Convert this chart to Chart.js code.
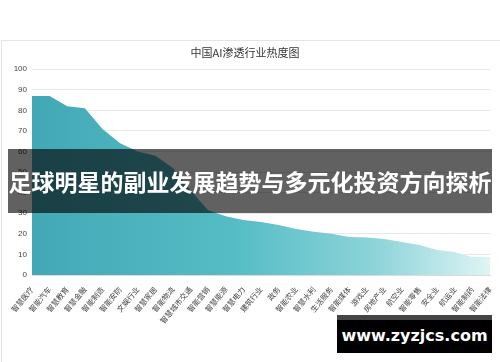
<!DOCTYPE html>
<html>
<head>
<meta charset="utf-8">
<script src="https://cdn.jsdelivr.net/npm/chart.js@4"></script>
<style>
  html, body { margin: 0; padding: 0; background: #fff; }
  body { width: 500px; height: 362px; position: relative; overflow: hidden;
         font-family: "Noto Sans CJK SC", "Noto Sans", sans-serif; }
  #card { position: absolute; left: 1px; top: 40px; width: 505px; height: 330px;
          border: 1px solid #e4e4e4; box-sizing: border-box; }
  #wrap { position: absolute; left: 0; top: 40px; width: 500px; height: 322px; }
  #banner { position: absolute; left: 8px; top: 149px; width: 484px; height: 64px;
            background: rgba(0,0,0,0.62); color: #fff; font-weight: bold;
            font-size: 23px; line-height: 64px; text-align: center; white-space: nowrap; }
  #mark { position: absolute; left: 337px; top: 315px; width: 155px; height: 38px;
          background: #000; border-top: 5px solid #444; box-sizing: border-box;
          color: #fff; font-family: "DejaVu Sans", sans-serif; font-weight: bold;
          font-size: 16px; line-height: 32px; text-align: center; }
</style>
</head>
<body>
<div id="card"></div>
<div id="wrap"><canvas id="heatChart"></canvas></div>
<div id="banner">足球明星的副业发展趋势与多元化投资方向探析</div>
<div id="mark">www.zyzjcs.com</div>

<script>
const industries = [
  "智慧医疗", "智能汽车", "智慧教育", "智慧金融", "智能制造", "智能安防",
  "文娱行业", "智慧家居", "智能物流", "智慧城市交通", "智能营销", "智慧能源",
  "智慧电力", "建筑行业", "政务", "智能农业", "智慧水利", "生活服务",
  "智能媒体", "游戏业", "房地产业", "航空业", "智能零售", "安全业",
  "航运业", "智能制药", "智能法律"
];

const heat = [
  87, 87, 82, 81, 71, 64, 60, 58, 52, 41, 31.5, 28.5,
  26.7, 25.7, 24.3, 22.3, 21, 20, 18.5, 18.2, 17.5, 16,
  14.6, 12.1, 11.2, 8.7, 8.7
];

const yTicks = [0, 10, 20, 30, 40, 50, 60, 70, 80, 90, 100];

function areaFill(ctx) {
    const area = ctx.chart.chartArea;
    if (!area) return "#4fb5c1";
    const g = ctx.chart.ctx.createLinearGradient(area.left, 0, area.right, 0);
    g.addColorStop(0, "#42a8b6");
    g.addColorStop(0.45, "#56bdc6");
    g.addColorStop(0.75, "#8dd4d9");
    g.addColorStop(1, "#e0f4f5");
    return g;
}

new Chart(document.getElementById("heatChart"), {
    type: "line",
    data: {
        labels: industries,
        datasets: [{
            label: "热度",
            data: heat,
            fill: "origin",
            backgroundColor: areaFill,
            borderWidth: 0,
            pointRadius: 0,
            tension: 0
        }]
    },
    options: {
        responsive: true,
        maintainAspectRatio: false,
        animation: false,
        layout: { padding: { left: 0, right: 10, top: 0, bottom: 0 } },
        plugins: {
            legend: { display: false },
            tooltip: { enabled: false },
            title: {
                display: true,
                text: "中国AI渗透行业热度图",
                color: "#333",
                font: { family: "Noto Sans CJK SC", size: 11, weight: "normal" },
                padding: { top: 6, bottom: 10 }
            }
        },
        scales: {
            x: {
                offset: false,
                grid: { display: false },
                border: { color: "#dcdcdc" },
                ticks: {
                    autoSkip: false,
                    minRotation: 50,
                    maxRotation: 50,
                    color: "#444",
                    padding: 2,
                    font: { family: "Noto Sans CJK SC", size: 7.5 }
                },
                afterFit: s => { s.height = 87; }
            },
            y: {
                min: 0,
                max: 100,
                afterBuildTicks: s => { s.ticks = yTicks.map(v => ({ value: v })); },
                grid: { color: "#e8e8e8", drawTicks: false },
                border: { display: false },
                ticks: {
                    color: "#444",
                    padding: 5,
                    font: { family: "Liberation Sans", size: 8 }
                },
                afterFit: s => { s.width = 32; }
            }
        }
    }
});
</script>
</body>
</html>
